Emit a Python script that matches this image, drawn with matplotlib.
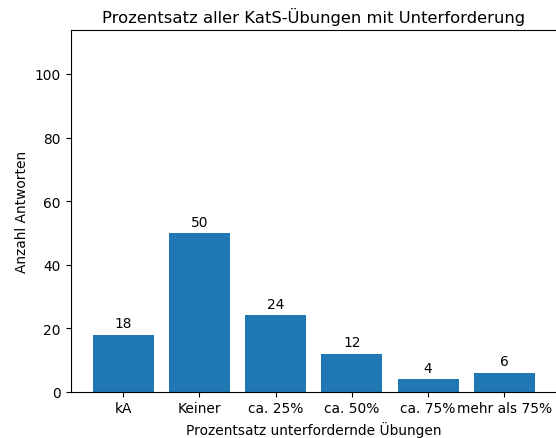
import matplotlib.pyplot as plt
import numpy as np

# Daten
kategorien = ['kA', 'Keiner', 'ca. 25%', 'ca. 50%', 'ca. 75%', 'mehr als 75%']
antworten = [18, 50, 24, 12, 4, 6]

plt.rcParams['font.size'] = 9.86

fig, ax = plt.subplots(figsize=(5.56, 4.39), dpi=100)
# Achse reicht rechts knapp über den Bildrand hinaus (wie im Original)
fig.subplots_adjust(left=0.127, right=1.0018, bottom=0.1055, top=0.9294)

x = np.arange(len(kategorien))
bars = ax.bar(x, antworten, color='#1f77b4')
ax.bar_label(bars, padding=3)

ax.set_xticks(x)
ax.set_xticklabels(kategorien)
ax.set_ylim(0, 113.85)

ax.set_title('Prozentsatz aller KatS-Übungen mit Unterforderung')
ax.set_xlabel('Prozentsatz unterfordernde Übungen')
ax.set_ylabel('Anzahl Antworten')

fig.savefig('out.png', dpi=100)
